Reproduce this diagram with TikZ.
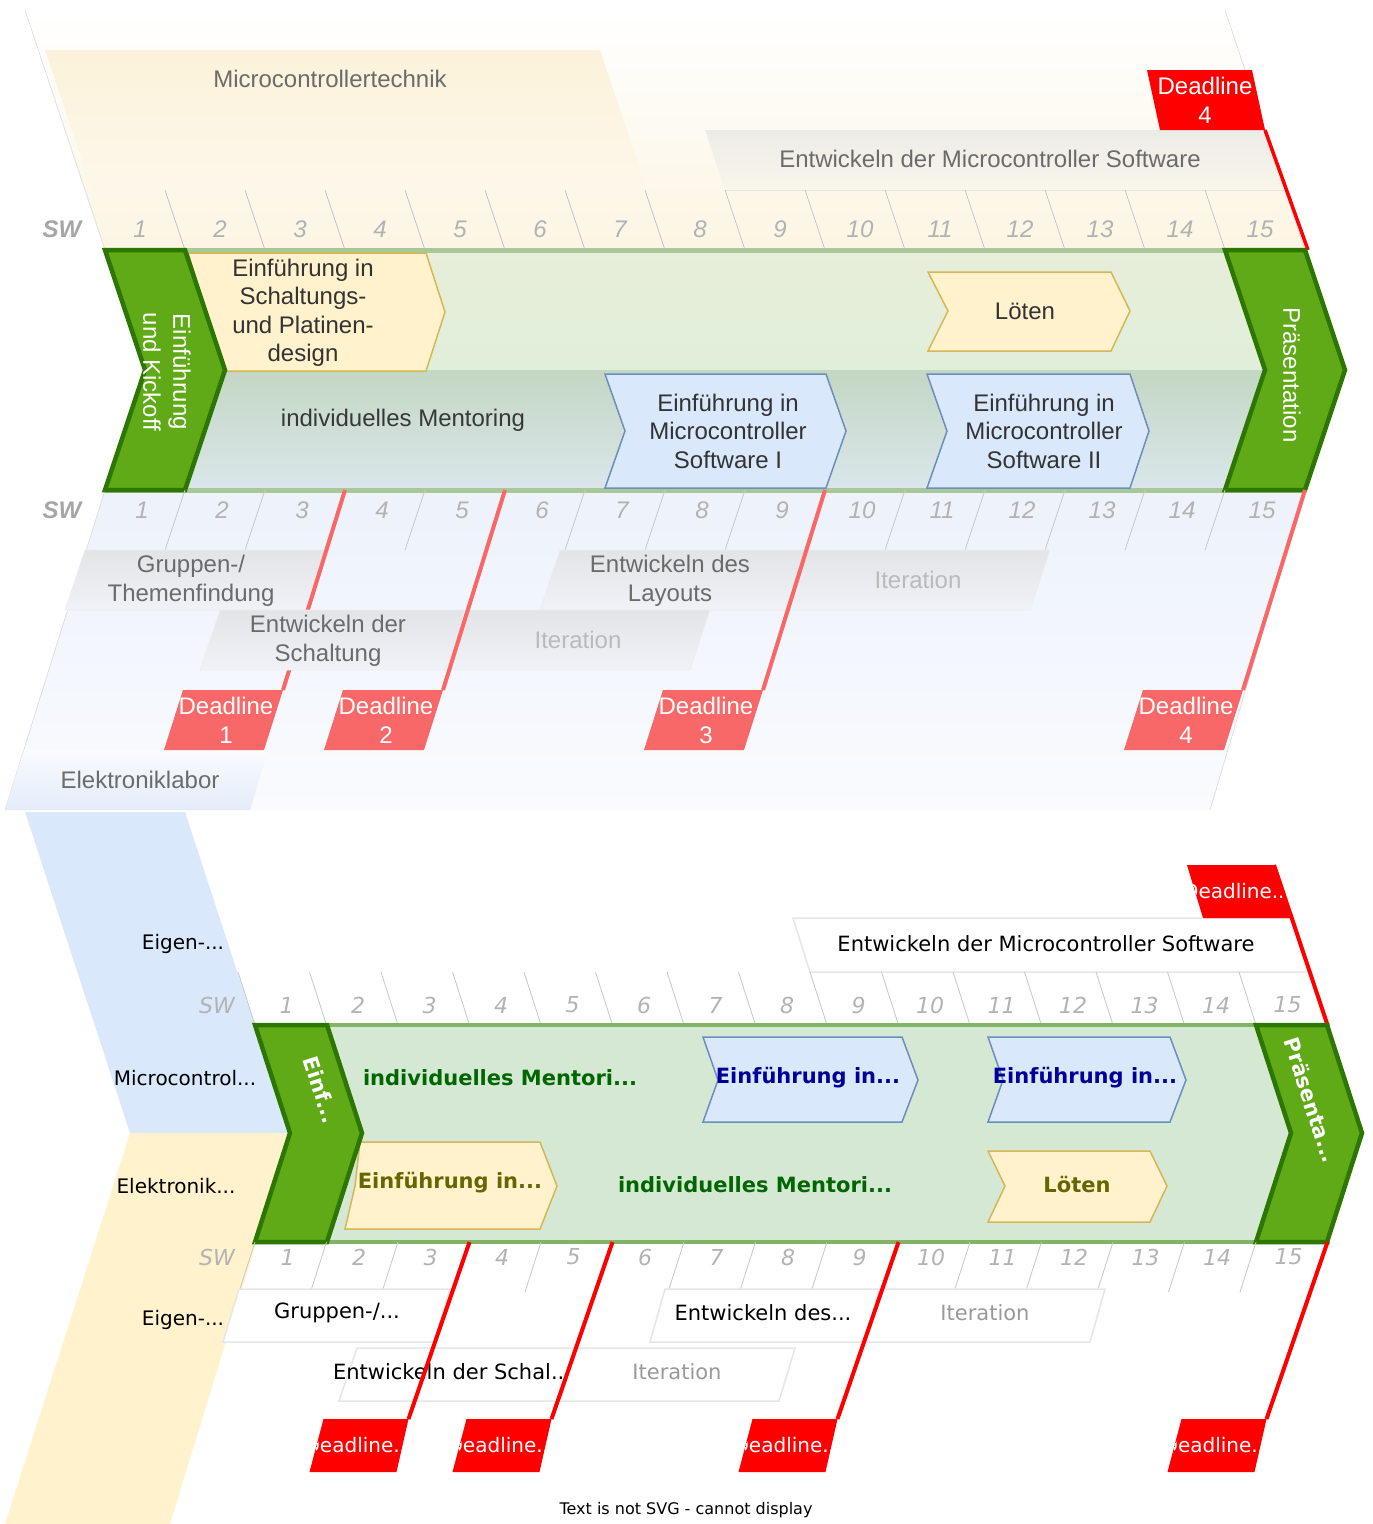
\documentclass[tikz,border=0pt]{standalone}
\usepackage{fontspec}
\setmainfont{Liberation Sans}
\newfontfamily\dvs{DejaVu Sans}
\definecolor{creamA}{HTML}{FCF5E3}
\definecolor{labcream}{HTML}{FCF2DA}
\definecolor{blueA}{HTML}{EDF2FB}
\definecolor{blueB}{HTML}{F9FBFE}
\definecolor{labblue}{HTML}{E3ECF9}
\definecolor{laneUpT}{HTML}{E7EED9}
\definecolor{laneUpB}{HTML}{E0EFDA}
\definecolor{laneLoT}{HTML}{C3D7C3}
\definecolor{laneLoB}{HTML}{DAE6EA}
\definecolor{bandline}{HTML}{A8C997}
\definecolor{chevfill}{HTML}{60A917}
\definecolor{chevdraw}{HTML}{2D7600}
\definecolor{stepcream}{HTML}{FFF2CC}
\definecolor{stepcreamD}{HTML}{D6B656}
\definecolor{stepblue}{HTML}{DAE8FC}
\definecolor{stepblueD}{HTML}{6C8EBF}
\definecolor{numgray}{HTML}{B3B3B3}
\definecolor{redsoft}{HTML}{F86868}
\definecolor{boxT}{HTML}{E3E4E8}
\definecolor{boxB}{HTML}{EFF2F7}
\definecolor{topgrayT}{HTML}{ECECE7}
\definecolor{topgrayB}{HTML}{F9F5EA}
\definecolor{bandB}{HTML}{D5E8D4}
\definecolor{bandBD}{HTML}{82B366}
\definecolor{lblue}{HTML}{DAE8FC}
\definecolor{lcream}{HTML}{FFF2CC}
\definecolor{dgreentxt}{HTML}{006600}
\definecolor{navytxt}{HTML}{000099}
\definecolor{olivetxt}{HTML}{666600}
\definecolor{boxline}{HTML}{E6E6E6}
\begin{document}
\begin{tikzpicture}[x=1pt,y=-1pt,
  swtick/.style={draw=black!22, line width=0.8pt},
  ttxt/.style={font=\fontsize{24}{28.5}\selectfont, text=black!80, align=center, inner sep=0pt},
  tgray/.style={font=\fontsize{24}{29.5}\selectfont, text=black!58, align=center, inner sep=0pt},
  tlight/.style={font=\fontsize{24}{29}\selectfont, text=black!27, align=center, inner sep=0pt},
  swnumT/.style={font=\fontsize{24}{28}\selectfont\itshape, text=black!30, inner sep=0pt},
  swlabT/.style={font=\fontsize{24}{28}\selectfont\bfseries\itshape, text=black!35, inner sep=0pt},
  chevtxtT/.style={font=\fontsize{24}{30}\selectfont, text=white, align=center, rotate=-90, inner sep=0pt},
  dltextT/.style={font=\fontsize{24}{29}\selectfont, text=white, align=center, inner sep=0pt},
  redline/.style={draw=redsoft, line width=4pt},
  chev/.style={fill=chevfill, draw=chevdraw, line width=4.5pt, line join=miter},
  creamstep/.style={fill=stepcream, draw=stepcreamD, line width=1.5pt},
  bluestep/.style={fill=stepblue, draw=stepblueD, line width=1.5pt},
  gbox/.style={top color=boxT, bottom color=boxB, draw=black!7, line width=0.6pt},
  bfont/.style={font=\dvs\fontsize{21}{25}\selectfont, inner sep=0pt},
  blabel/.style={font=\dvs\fontsize{20}{24}\selectfont, inner sep=0pt},
  bbold/.style={font=\dvs\bfseries\fontsize{21}{25}\selectfont, inner sep=0pt},
  bchevtxt/.style={font=\dvs\bfseries\fontsize{21}{25}\selectfont, text=white, rotate=-72, inner sep=0pt},
  bswnum/.style={font=\dvs\itshape\fontsize{22}{26}\selectfont, text=numgray, inner sep=0pt},
  bbox/.style={fill=white, draw=boxline, line width=1.5pt},
  bred/.style={draw=red, line width=4pt},
  bdl/.style={font=\dvs\fontsize{20}{24}\selectfont, text=white, inner sep=0pt}
]
\useasboundingbox (0,0) rectangle (1373,1524);
\fill[white] (0,0) rectangle (1373,1524);

%% ================= TOP SECTION =================
\shade[top color=white, bottom color=creamA] (25,10) -- (1225,10) -- (1305,250) -- (105,250) -- cycle;
\draw[black!15, line width=0.6pt] (25,10) -- (105,250);
\draw[black!15, line width=0.6pt] (1225,10) -- (1305,250);
\shade[top color=labcream, bottom color=creamA!75!white] (45,50) -- (600,50) -- (647,190) -- (92,190) -- cycle;
\node[tgray] (mct) at (330,79) {Microcontrollertechnik};

\shade[top color=topgrayT, bottom color=topgrayB] (705,130) -- (1265,130) -- (1285,190) -- (725,190) -- cycle;
\draw[black!10, line width=0.6pt] (725,190) -- (1285,190);
\node[tgray] (emsT) at (990,159) {Entwickeln der Microcontroller Software};

\fill[red] (1147,70) -- (1252,70) -- (1265,130) -- (1160,130) -- cycle;
\node[dltextT] (dl4top) at (1205,100) {Deadline\\4};
\coordinate (dl4a) at (1265,130);
\coordinate (dl4b) at (1308,250);
\draw[draw=red, line width=3.5pt] (dl4a) -- (dl4b);

\node[swlabT] (swT1) at (62,229) {SW};
\foreach \k in {1,...,14} \draw[swtick] ({85+80*\k},190) -- ({105+80*\k},250);
\foreach \k in {1,...,15} \node[swnumT] (tu\k) at ({60+80*\k},229) {\k};

\shade[top color=blueA, bottom color=blueB] (105,490) -- (1305,490) -- (1210,810) -- (5,810) -- cycle;
\draw[black!15, line width=0.6pt] (105,490) -- (5,810);
\draw[black!15, line width=0.6pt] (1305,490) -- (1210,810);
\shade[top color=blueB, bottom color=labblue] (24,750) -- (268,750) -- (250,810) -- (5,810) -- cycle;
\node[tgray] (elab) at (140,780) {Elektroniklabor};

\shade[top color=laneUpT, bottom color=laneUpB] (150,252) rectangle (1270,370);
\shade[top color=laneLoT, bottom color=laneLoB] (150,370) rectangle (1270,488);
\draw[bandline, line width=5pt] (105,250) -- (1305,250);
\draw[bandline, line width=5pt] (105,490) -- (1305,490);

\draw[creamstep] (188,253) -- (426,253) -- (445,312) -- (426,371) -- (225,371) -- cycle;
\node[ttxt] (schalt) at (303,313) {Einführung in\\Schaltungs-\\und Platinen-\\design};
\draw[creamstep] (928,272) -- (1111,272) -- (1130,311) -- (1111,351) -- (928,351) -- (948,311) -- cycle;
\node[ttxt] (loetT) at (1025,311) {Löten};
\node[ttxt, text=black!78] (mentT) at (403,420) {individuelles Mentoring};
\draw[bluestep] (605,374) -- (826,374) -- (846,431) -- (826,488) -- (605,488) -- (625,431) -- cycle;
\node[ttxt] (mcs1) at (728,431) {Einführung in\\Microcontroller\\Software I};
\draw[bluestep] (927,374) -- (1130,374) -- (1149,431) -- (1130,488) -- (927,488) -- (947,431) -- cycle;
\node[ttxt] (mcs2) at (1044,431) {Einführung in\\Microcontroller\\Software II};

\draw[chev] (105,250) -- (185,250) -- (225,370) -- (185,490) -- (105,490) -- (145,370) -- cycle;
\node[chevtxtT] (kick) at (167,372) {Einführung\\und Kickoff};
\draw[chev] (1225,250) -- (1305,250) -- (1345,370) -- (1305,490) -- (1225,490) -- (1265,370) -- cycle;
\node[chevtxtT] (praesT) at (1292,375) {Präsentation};

\node[swlabT] (swT2) at (62,510) {SW};
\foreach \k in {1,2,4,6,7,8,10,11,12,13,14} \draw[swtick] ({105+80*\k},490) -- ({85+80*\k},550);
\foreach \k in {1,...,15} \node[swnumT] (tl\k) at ({62+80*\k},510) {\k};

\shadedraw[gbox] (85,550) -- (325,550) -- (305,610) -- (65,610) -- cycle;
\node[tgray] (grupT) at (191,581) {Gruppen-/\\Themenfindung};
\shadedraw[gbox] (560,550) -- (805,550) -- (785,610) -- (540,610) -- cycle;
\node[tgray] (layT) at (670,581) {Entwickeln des\\Layouts};
\shadedraw[gbox] (805,550) -- (1050,550) -- (1030,610) -- (785,610) -- cycle;
\node[tlight] (it2T) at (918,580) {Iteration};
\shadedraw[gbox] (465,610) -- (710,610) -- (690,670) -- (445,670) -- cycle;
\node[tlight] (it1T) at (578,640) {Iteration};

\foreach \X/\i in {345/1,505/2,825/3,1305/4} {
  \coordinate (dlt\i) at (\X,490);
  \coordinate (dlb\i) at ({\X-62},690);
  \fill[redsoft] ({\X-162},690) -- ({\X-62},690) -- ({\X-81},750) -- ({\X-181},750) -- cycle;
  \node[dltextT] (dl\i) at ({\X-119},720) {Deadline\\\i};
  \draw[redline] (dlt\i) -- (dlb\i);
}
\shadedraw[gbox] (220,610) -- (465,610) -- (445,670) -- (200,670) -- cycle;
\node[tgray] (schT) at (328,641) {Entwickeln der\\Schaltung};

%% ================= BOTTOM SECTION =================
\fill[lblue] (25,812) -- (185,812) -- (290,1133) -- (130,1133) -- cycle;
\fill[lcream] (130,1133) -- (290,1133) -- (170,1524) -- (5,1524) -- cycle;
\node[blabel] (lab1) at (183,944) {Eigen-...};
\node[blabel] (lab2) at (185,1078) {Microcontrol...};
\node[blabel] (lab3) at (176,1186) {Elektronik...};
\node[blabel] (lab4) at (183,1320) {Eigen-...};

\draw[bbox] (793,918) -- (1293,918) -- (1310,972) -- (810,972) -- cycle;
\node[bfont] (emsB) at (1046,944) {Entwickeln der Microcontroller Software};

\fill[red] (1187,865) -- (1274,865) -- (1291,918) -- (1203,918) -- cycle;
\begin{scope}
  \clip (1187,865) -- (1274,865) -- (1291,918) -- (1203,918) -- cycle;
  \node[bdl] (bdtop) at (1237,891) {Deadline...};
\end{scope}
\coordinate (bdta) at (1274,865);
\coordinate (bdtb) at (1327.5,1025);
\draw[bred] (bdta) -- (bdtb);

\node[bswnum] (swB1) at (217,1005) {SW};
\foreach \k in {0,...,14} \draw[swtick] ({238+71.5*\k},972) -- ({255+71.5*\k},1025);
\foreach \k in {1,...,15} \node[bswnum] (bu\k) at ({215+71.5*\k},1005) {\k};

\fill[bandB] (255,1025) -- (1330,1025) -- (1330,1242) -- (255,1242) -- (290,1133) -- cycle;
\draw[bandBD, line width=4pt] (255,1025) -- (1330,1025);
\draw[bandBD, line width=4pt] (255,1242) -- (1330,1242);

\node[bbold, text=dgreentxt] (mentB1) at (500,1078) {individuelles Mentori...};
\draw[bluestep] (703,1037) -- (902,1037) -- (918,1080) -- (902,1122) -- (703,1122) -- (718,1080) -- cycle;
\node[bbold, text=navytxt] (einB1) at (808,1078) {Einführung in...};
\draw[bluestep] (988,1037) -- (1170,1037) -- (1186,1080) -- (1170,1122) -- (988,1122) -- (1003,1080) -- cycle;
\node[bbold, text=navytxt] (einB2) at (1085,1078) {Einführung in...};
\draw[creamstep] (360,1142) -- (540,1142) -- (557,1186) -- (540,1229) -- (345,1229) -- (355,1186) -- cycle;
\node[bbold, text=olivetxt] (einB3) at (450,1183) {Einführung in...};
\node[bbold, text=dgreentxt] (mentB2) at (755,1185) {individuelles Mentori...};
\draw[creamstep] (988,1151) -- (1150,1151) -- (1167,1186) -- (1150,1222) -- (988,1222) -- (1005,1186) -- cycle;
\node[bbold, text=olivetxt] (loetB) at (1077,1185) {Löten};

\draw[chev] (255,1025) -- (327,1025) -- (362,1133) -- (327,1242) -- (255,1242) -- (290,1133) -- cycle;
\node[bchevtxt] (einfB) at (321,1090) {Einf...};
\draw[chev] (1256,1025) -- (1327,1025) -- (1362,1133) -- (1327,1242) -- (1256,1242) -- (1291,1133) -- cycle;
\node[bchevtxt] (praesB) at (1311,1100) {Präsenta...};

\node[bswnum] (swB2) at (217,1257) {SW};
\foreach \k in {0,1,2,4,6,7,8,10,11,12,13,14} \draw[swtick] ({255+71.5*\k},1242) -- ({239+71.5*\k},1292);
\foreach \k in {1,...,15} \node[bswnum] (bl\k) at ({216+71.5*\k},1257) {\k};

\draw[bbox] (239,1289) -- (450,1289) -- (434,1342) -- (223,1342) -- cycle;
\node[bfont] (grupB) at (337,1313) {Gruppen-/...};
\draw[bbox] (665,1289) -- (880,1289) -- (865,1342) -- (650,1342) -- cycle;
\node[bfont] (layB) at (763,1313) {Entwickeln des...};
\draw[bbox] (880,1289) -- (1105,1289) -- (1090,1342) -- (865,1342) -- cycle;
\node[bfont, text=black!40] (it2B) at (985,1313) {Iteration};
\draw[bbox] (357,1348) -- (576,1348) -- (560,1401) -- (339,1401) -- cycle;
\node[bfont] (schB) at (452,1372) {Entwickeln der Schal...};
\draw[bbox] (576,1348) -- (795,1348) -- (779,1401) -- (560,1401) -- cycle;
\node[bfont, text=black!40] (it1B) at (677,1372) {Iteration};

\foreach \X/\i in {469.5/1,612.5/2,898.5/3,1327.5/4} {
  \coordinate (bt\i) at (\X,1242);
  \coordinate (bb\i) at ({\X-61},1419);
  \fill[red] ({\X-146},1419) -- ({\X-61},1419) -- ({\X-73},1472) -- ({\X-160},1472) -- cycle;
  \begin{scope}
    \clip ({\X-146},1419) -- ({\X-61},1419) -- ({\X-73},1472) -- ({\X-160},1472) -- cycle;
    \node[bdl] (bd\i) at ({\X-111},1445) {Deadline...};
  \end{scope}
  \draw[bred] (bt\i) -- (bb\i);
}

\node[font=\dvs\fontsize{16}{19}\selectfont, inner sep=0pt] (nosvg) at (686,1510) {Text is not SVG - cannot display};
\end{tikzpicture}
\end{document}
